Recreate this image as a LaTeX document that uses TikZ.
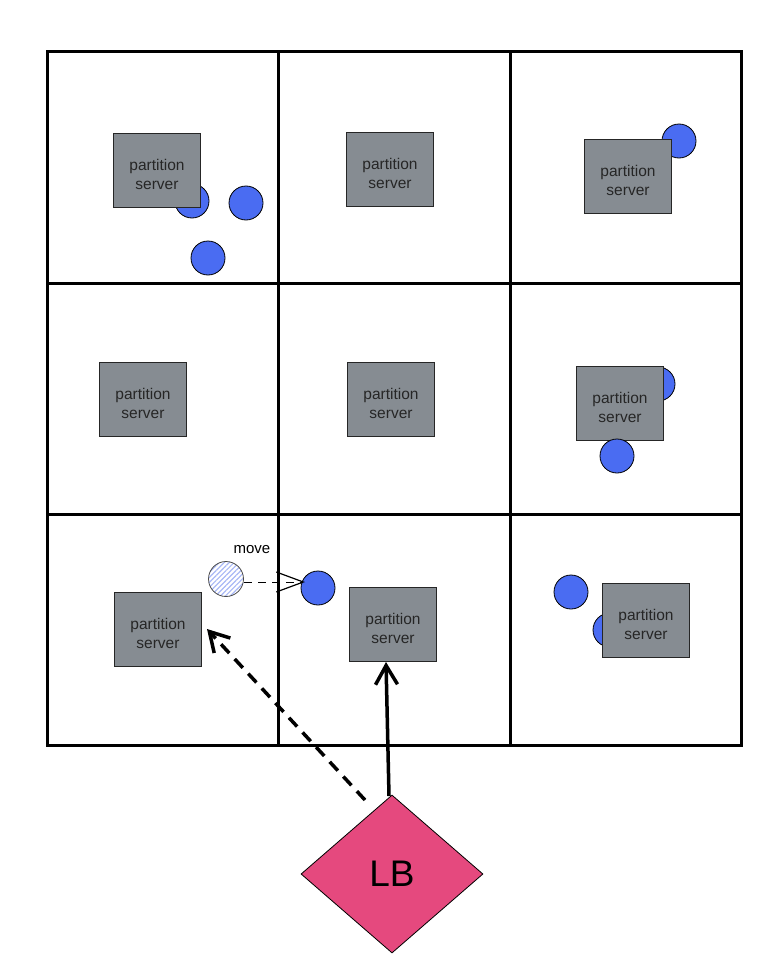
\documentclass[tikz,border=0pt]{standalone}
\usepackage{fontspec}
\setmainfont{Liberation Sans}
\usetikzlibrary{arrows.meta,shapes.geometric,patterns.meta}
\definecolor{psgray}{HTML}{868C92}
\definecolor{dotblue}{HTML}{4A6CF2}
\definecolor{lbpink}{HTML}{E5497E}
\definecolor{hatchblue}{HTML}{A9B8F5}
\newcommand{\pstext}{\rule{0pt}{21pt}partition\\server}
\begin{document}
\begin{tikzpicture}[x=1pt,y=-1pt,
  psbox/.style={draw=black!85,fill=psgray,minimum width=87pt,minimum height=74pt,inner sep=0pt,align=center,font=\fontsize{15.5}{19}\selectfont,text=black!85},
  dot/.style={circle,draw=black,line width=0.8pt,fill=dotblue,minimum size=34pt,inner sep=0pt},
  gridline/.style={line width=3pt,line cap=rect},
  bigarrow/.style={line width=3.5pt,-{Straight Barb[length=19pt,width=22pt,line width=3.5pt]}}
]
\useasboundingbox (0,0) rectangle (782,955);
% grid
\foreach \x in {47,278,510,741} \draw[gridline] (\x,52) -- (\x,745);
\foreach \y in {52,283,514,745} \draw[gridline] (47,\y) -- (741,\y);
% circles behind boxes
\node[dot] (c1) at (192,201) {};
\node[dot] (c4) at (679,141) {};
\node[dot] (c5) at (658,384) {};
\node[dot] (c9) at (610,630) {};
% boxes
\node[psbox] (p11) at (157,170) {\pstext};
\node[psbox] (p12) at (390,169) {\pstext};
\node[psbox] (p13) at (628,176) {\pstext};
\node[psbox] (p21) at (143,399) {\pstext};
\node[psbox] (p22) at (391,399) {\pstext};
\node[psbox] (p23) at (620,403) {\pstext};
\node[psbox] (p31) at (158,629) {\pstext};
\node[psbox] (p32) at (393,624) {\pstext};
\node[psbox] (p33) at (646,620) {\pstext};
% circles in front
\node[dot] (c2) at (246,203) {};
\node[dot] (c3) at (208,258) {};
\node[dot] (c6) at (617,456) {};
\node[dot] (c7) at (318,588) {};
\node[dot] (c8) at (571,592) {};
% ghost circle
\node[circle,draw=black!70,line width=0.8pt,minimum size=35pt,inner sep=0pt,
  pattern={Lines[angle=45,distance=3.5pt,line width=1.2pt]},pattern color=hatchblue] (ghost) at (226,579) {};
\node[font=\fontsize{15}{17}\selectfont] (mv) at (252,550) {move};
\coordinate (mvs) at (244,582);
\coordinate (mvt) at (305,582);
\draw[dash pattern=on 8pt off 6pt,line width=1pt,-{Straight Barb[length=27pt,width=20pt,line width=1.2pt]}] (mvs) -- (mvt);
% LB
\node[diamond,draw=black,line width=0.8pt,fill=lbpink,minimum width=182pt,minimum height=158pt,inner sep=0pt,aspect=1.15,font=\fontsize{37}{40}\selectfont] (lb) at (392,874) {LB};
\coordinate (lbs) at (389,796);
\coordinate (lbd) at (365,800);
\coordinate (tgt) at (207,629);
\coordinate (tgs) at (386,662);
\draw[bigarrow] (lbs) -- (tgs);
\draw[bigarrow,dash pattern=on 12pt off 8pt] (lbd) -- (tgt);
\end{tikzpicture}
\end{document}
